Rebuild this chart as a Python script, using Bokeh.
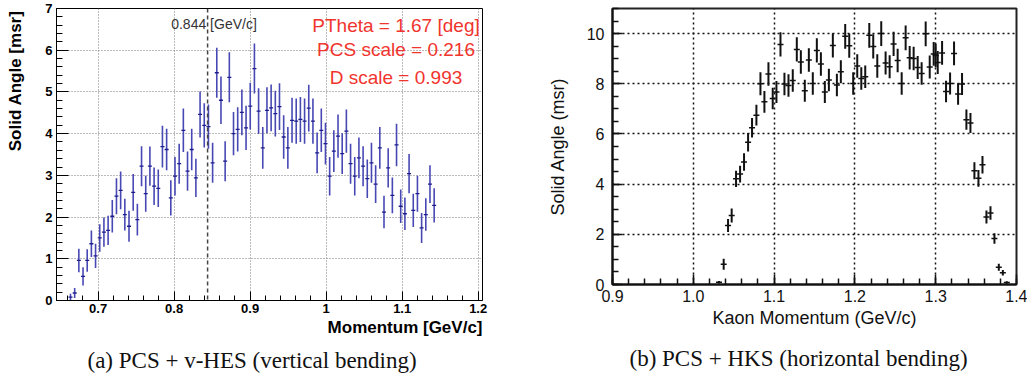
from bokeh.plotting import figure
from bokeh.models import (FixedTicker, NumeralTickFormatter, Span, Label,
                          ColumnDataSource, Range1d, Title)
from bokeh.layouts import row
from bokeh.embed import file_html
from bokeh.resources import INLINE

# ---------------- data: (a) PCS + v-HES ----------------
a_momentum = [
    0.6636, 0.6691, 0.6746, 0.6801, 0.6856, 0.6911, 0.6966, 0.7021, 0.7076, 0.7131,
    0.7186, 0.7241, 0.7296, 0.7351, 0.7406, 0.7461, 0.7516, 0.7571, 0.7626, 0.7681,
    0.7736, 0.7791, 0.7846, 0.7901, 0.7956, 0.8011, 0.8066, 0.8121, 0.8176, 0.8231,
    0.8286, 0.8341, 0.8396, 0.8451, 0.8506, 0.8561, 0.8616, 0.8671, 0.8726, 0.8781,
    0.8836, 0.8891, 0.8946, 0.9001, 0.9056, 0.9111, 0.9166, 0.9221, 0.9276, 0.9331,
    0.9386, 0.9441, 0.9496, 0.9551, 0.9606, 0.9661, 0.9716, 0.9771, 0.9826, 0.9881,
    0.9936, 0.9991, 1.0046, 1.0101, 1.0156, 1.0211, 1.0266, 1.0321, 1.0376, 1.0431,
    1.0486, 1.0541, 1.0596, 1.0651, 1.0706, 1.0761, 1.0816, 1.0871, 1.0926, 1.0981,
    1.1036, 1.1091, 1.1146, 1.1201, 1.1256, 1.1311, 1.1366, 1.1421]
a_solid_angle = [
    0.08, 0.18, 0.96, 0.58, 0.96, 1.36, 1.07, 1.50, 1.64, 1.68,
    2.02, 2.50, 2.64, 2.06, 1.78, 2.59, 1.94, 3.22, 2.56, 3.22,
    2.74, 2.69, 3.69, 3.62, 2.46, 2.98, 3.28, 4.08, 3.10, 3.62,
    2.94, 4.46, 4.20, 4.17, 3.30, 5.46, 4.80, 3.34, 5.35, 4.00,
    4.10, 4.51, 4.14, 4.66, 5.56, 4.54, 3.66, 4.56, 4.62, 4.48,
    4.65, 3.92, 3.66, 4.32, 4.30, 4.34, 4.30, 4.61, 4.30, 3.54,
    4.08, 3.76, 2.98, 3.58, 3.94, 3.52, 4.06, 3.28, 2.98, 3.42,
    3.22, 2.92, 3.30, 2.79, 3.66, 2.12, 3.18, 2.52, 3.73, 2.26,
    2.08, 3.04, 2.16, 2.56, 1.74, 2.06, 2.79, 2.28]
a_error = [
    0.08, 0.12, 0.28, 0.22, 0.27, 0.32, 0.29, 0.33, 0.35, 0.35,
    0.39, 0.43, 0.45, 0.38, 0.37, 0.44, 0.38, 0.48, 0.43, 0.47,
    0.45, 0.45, 0.50, 0.50, 0.42, 0.46, 0.48, 0.52, 0.47, 0.50,
    0.46, 0.55, 0.53, 0.53, 0.48, 0.60, 0.57, 0.48, 0.60, 0.52,
    0.53, 0.55, 0.53, 0.56, 0.60, 0.55, 0.50, 0.55, 0.56, 0.55,
    0.56, 0.52, 0.50, 0.54, 0.54, 0.54, 0.54, 0.56, 0.54, 0.49,
    0.52, 0.50, 0.46, 0.50, 0.52, 0.49, 0.52, 0.48, 0.46, 0.49,
    0.48, 0.46, 0.48, 0.45, 0.50, 0.39, 0.47, 0.43, 0.51, 0.40,
    0.39, 0.47, 0.40, 0.43, 0.36, 0.39, 0.45, 0.41]
a_ticks_x = [0.7, 0.8, 0.9, 1.0, 1.1, 1.2]
a_ticks_y = [0, 1, 2, 3, 4, 5, 6, 7]
a_marker = 0.844
a_marker_text = "0.844 [GeV/c]"
a_notes = ["PTheta = 1.67 [deg]", "PCS scale = 0.216", "D scale = 0.993"]

# ---------------- data: (b) PCS + HKS ----------------
b_momentum = [
    1.0318, 1.0376, 1.0430, 1.0475, 1.0529, 1.0579, 1.0628, 1.0678, 1.0727, 1.0781,
    1.0831, 1.0880, 1.0930, 1.0983, 1.1029, 1.1079, 1.1128, 1.1178, 1.1231, 1.1281,
    1.1331, 1.1380, 1.1430, 1.1479, 1.1529, 1.1579, 1.1628, 1.1678, 1.1727, 1.1777,
    1.1826, 1.1880, 1.1930, 1.1979, 1.2029, 1.2079, 1.2128, 1.2178, 1.2227, 1.2277,
    1.2326, 1.2380, 1.2430, 1.2479, 1.2529, 1.2579, 1.2628, 1.2678, 1.2727, 1.2777,
    1.2826, 1.2876, 1.2926, 1.2975, 1.3000, 1.3025, 1.3079, 1.3128, 1.3178, 1.3227,
    1.3277, 1.3326, 1.3380, 1.3430, 1.3479, 1.3529, 1.3579, 1.3628, 1.3678, 1.3727,
    1.3781, 1.3831, 1.3880]
b_solid_angle = [
    0.09, 0.81, 2.35, 2.75, 4.21, 4.40, 4.88, 5.67, 6.25, 6.75,
    8.00, 7.28, 8.39, 7.41, 7.67, 9.57, 7.99, 7.93, 8.13, 9.37,
    8.87, 7.72, 8.95, 8.01, 9.33, 8.79, 7.67, 8.15, 9.53, 7.95,
    8.48, 9.89, 9.52, 8.01, 8.71, 8.21, 8.28, 9.93, 9.49, 8.71,
    10.00, 8.83, 8.68, 9.59, 8.93, 8.01, 9.83, 9.04, 9.01, 8.65,
    8.41, 9.99, 8.67, 9.19, 9.13, 8.85, 9.23, 7.69, 8.01, 9.21,
    7.59, 7.99, 6.57, 6.44, 4.53, 4.23, 4.77, 2.69, 2.85, 1.83,
    0.69, 0.47, 0.08]
b_error = [
    0.05, 0.22, 0.26, 0.28, 0.32, 0.33, 0.35, 0.37, 0.39, 0.41,
    0.46, 0.43, 0.47, 0.43, 0.44, 0.48, 0.45, 0.45, 0.45, 0.48,
    0.47, 0.44, 0.47, 0.45, 0.48, 0.47, 0.44, 0.45, 0.48, 0.45,
    0.46, 0.49, 0.48, 0.45, 0.47, 0.45, 0.45, 0.49, 0.48, 0.47,
    0.49, 0.46, 0.46, 0.48, 0.47, 0.45, 0.49, 0.47, 0.47, 0.46,
    0.45, 0.49, 0.46, 0.47, 0.47, 0.46, 0.47, 0.43, 0.44, 0.47,
    0.43, 0.44, 0.40, 0.40, 0.34, 0.33, 0.35, 0.26, 0.27, 0.21,
    0.14, 0.11, 0.05]
b_ticks_x = [0.9, 1.0, 1.1, 1.2, 1.3, 1.4]
b_ticks_y = [0, 2, 4, 6, 8, 10]

caption_a = "(a) PCS + v-HES (vertical bending)"
caption_b = "(b) PCS + HKS (horizontal bending)"

SANS = "Liberation Sans"
SERIF = "Liberation Serif"


def err_source(xs, ys, es):
    return ColumnDataSource(dict(
        x=xs, y=ys,
        lo=[y - e for y, e in zip(ys, es)],
        hi=[y + e for y, e in zip(ys, es)]))


# ================= panel (a) =================
pa = figure(width=540, height=388, x_range=Range1d(0.6452, 1.2057),
            y_range=Range1d(0, 7), output_backend="svg", toolbar_location=None,
            min_border_left=56, min_border_right=58, min_border_top=8,
            min_border_bottom=88)
pa.background_fill_color = "white"
pa.border_fill_color = "white"
pa.outline_line_color = "black"
pa.outline_line_width = 1

pa.xaxis.ticker = FixedTicker(ticks=a_ticks_x,
                              minor_ticks=[round(0.66 + 0.02 * i, 2) for i in range(28)])
pa.yaxis.ticker = FixedTicker(ticks=a_ticks_y,
                              minor_ticks=[round(0.2 * i, 1) for i in range(36)])
pa.xaxis.formatter = NumeralTickFormatter(format="0.[0]")
for ax in (pa.xaxis, pa.yaxis):
    ax.axis_line_color = "black"
    ax.axis_line_width = 1
    ax.major_tick_out = 0
    ax.minor_tick_out = 0
    ax.major_tick_line_color = "black"
    ax.minor_tick_line_color = "black"
    ax.major_label_text_font = SANS
    ax.major_label_text_font_style = "bold"
    ax.major_label_text_font_size = "13px"
    ax.major_label_text_color = "black"
pa.yaxis.major_label_standoff = 4
pa.xaxis.major_label_standoff = 3
pa.yaxis.major_tick_in = 12
pa.yaxis.minor_tick_in = 6
pa.xaxis.major_tick_in = 9
pa.xaxis.minor_tick_in = 5
# blank spacer label: pushes the rotated y title further left
pa.yaxis.axis_label = " "
pa.yaxis.axis_label_text_font_size = "8px"
pa.yaxis.axis_label_standoff = 5
for g in (pa.xgrid, pa.ygrid):
    g.grid_line_color = "#777777"
    g.grid_line_dash = "1 2"
    g.grid_line_width = 1

pa.add_layout(Span(location=a_marker, dimension="height", line_color="#444444",
                   line_dash="4 3", line_width=1.5))

src_a = err_source(a_momentum, a_solid_angle, a_error)
pa.segment(x0="x", y0="lo", x1="x", y1="hi", source=src_a,
           line_color="#4848b4", line_width=1.6)
pa.dash(x="x", y="y", source=src_a, size=4, line_color="#1c1c8c", line_width=1.3)

pa.add_layout(Label(x=0.8524, y=6.62, text=a_marker_text, text_font=SANS,
                    text_font_size="14px", text_color="#333333",
                    text_align="center", text_baseline="middle"))
for txt, yy in zip(a_notes, [6.60, 6.02, 5.35]):
    pa.add_layout(Label(x=1.0919, y=yy, text=txt, text_font=SANS,
                        text_font_size="19px", text_color="#f0342e",
                        text_align="center", text_baseline="middle"))

pa.add_layout(Title(text="Solid Angle [msr]", align="right", offset=2,
                    vertical_align="middle", standoff=0,
                    text_font=SANS, text_font_style="bold", text_font_size="17px",
                    text_color="black"), "left")
pa.add_layout(Title(text="Momentum [GeV/c]", align="right", offset=0,
                    standoff=0, text_font=SANS, text_font_style="bold",
                    text_font_size="17px", text_color="black"), "below")
pa.add_layout(Title(text=caption_a, align="left", offset=31, standoff=18,
                    text_font=SERIF, text_font_style="normal",
                    text_font_size="23px", text_color="#111111"), "below")

# ================= panel (b) =================
pb = figure(width=487, height=388, x_range=Range1d(0.9, 1.4),
            y_range=Range1d(0, 11), output_backend="svg", toolbar_location=None,
            min_border_left=72, min_border_right=11, min_border_top=8,
            min_border_bottom=104)
pb.background_fill_color = "white"
pb.border_fill_color = "white"
pb.outline_line_color = "#222222"
pb.outline_line_width = 2

pb.xaxis.ticker = FixedTicker(ticks=b_ticks_x,
                              minor_ticks=[round(0.9 + 0.02 * i, 2) for i in range(26)])
pb.yaxis.ticker = FixedTicker(ticks=b_ticks_y,
                              minor_ticks=[0.5 * i for i in range(23)])
pb.xaxis.formatter = NumeralTickFormatter(format="0.0")
for ax in (pb.xaxis, pb.yaxis):
    ax.axis_line_color = "#111111"
    ax.axis_line_width = 2
    ax.major_tick_out = 0
    ax.minor_tick_out = 0
    ax.major_tick_in = 10
    ax.minor_tick_in = 6
    ax.major_tick_line_color = "#111111"
    ax.minor_tick_line_color = "#111111"
    ax.major_tick_line_width = 1.5
    ax.minor_tick_line_width = 1.5
    ax.major_label_text_font = SANS
    ax.major_label_text_font_size = "16px"
    ax.major_label_text_color = "#111111"
    ax.axis_label_text_font = SANS
    ax.axis_label_text_font_size = "18px"
    ax.axis_label_text_font_style = "normal"
    ax.axis_label_text_color = "#111111"
pb.yaxis.major_label_standoff = 8
pb.xaxis.major_label_standoff = 5
pb.xaxis.axis_label = "Kaon Momentum (GeV/c)"
pb.yaxis.axis_label = "Solid Angle (msr)"
pb.xaxis.axis_label_standoff = 3
pb.yaxis.axis_label_standoff = 16
for g in (pb.xgrid, pb.ygrid):
    g.grid_line_color = "#111111"
    g.grid_line_dash = "2 3"
    g.grid_line_width = 1.5

src_b = err_source(b_momentum, b_solid_angle, b_error)
pb.segment(x0="x", y0="lo", x1="x", y1="hi", source=src_b,
           line_color="#111111", line_width=2)
pb.dash(x="x", y="y", source=src_b, size=6, line_color="#111111", line_width=1.5)

pb.add_layout(Title(text=caption_b, align="left", offset=17, standoff=26,
                    text_font=SERIF, text_font_style="normal",
                    text_font_size="23px", text_color="#111111"), "below")

# the two panels have differently placed frames: do not align them
for p in (pa, pb):
    try:
        p.frame_align = False
    except Exception:
        pass

layout = row(pa, pb)
open("out.html", "w").write(file_html(layout, INLINE))
